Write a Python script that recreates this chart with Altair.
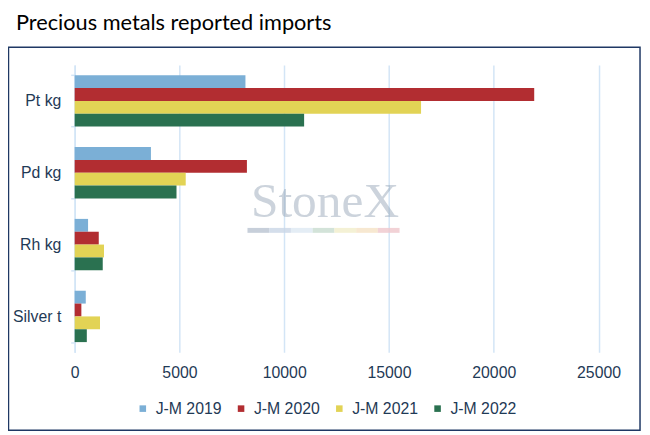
import altair as alt
import pandas as pd

categories = ["Pt kg", "Pd kg", "Rh kg", "Silver t"]
series = ["J-M 2019", "J-M 2020", "J-M 2021", "J-M 2022"]
v2019 = [8150, 3640, 640, 530]
v2020 = [21930, 8220, 1150, 320]
v2021 = [16530, 5300, 1400, 1210]
v2022 = [10950, 4860, 1340, 580]
colors = ["#7BAFD6", "#B22D31", "#E2D355", "#2A7150"]
x_ticks = [0, 5000, 10000, 15000, 20000, 25000]
stripe_colors = ["#B9C3D1", "#C9D6E6", "#DDE8F2", "#C8DCD0", "#F1EDCB", "#F5E2C6", "#EFC7CC"]

rows = []
for s, vals in zip(series, [v2019, v2020, v2021, v2022]):
    for c, v in zip(categories, vals):
        rows.append({"category": c, "series": s, "value": v})
df = pd.DataFrame(rows)

navy = "#1F3A56"
grid = "#D3E5F6"
W, H = 530.5, 291

frame = alt.Chart(pd.DataFrame({"a": [0]})).mark_rect(
    fill="transparent", stroke="#1F3864", strokeWidth=1.5
).encode(x=alt.value(-67), x2=alt.value(572.5), y=alt.value(-18), y2=alt.value(370))

watermark = alt.Chart(pd.DataFrame({"t": ["StoneX"]})).mark_text(
    font="Liberation Serif", fontSize=50, color="#8FA0B2", opacity=0.45,
    align="center", baseline="alphabetic"
).encode(text="t:N", x=alt.value(253.5), y=alt.value(154))

stripe_layers = []
for i, c in enumerate(stripe_colors):
    stripe_layers.append(
        alt.Chart(pd.DataFrame({"a": [0]})).mark_rect(color=c, opacity=0.8).encode(
            x=alt.value(175 + i * 22), x2=alt.value(175 + (i + 1) * 22),
            y=alt.value(165), y2=alt.value(170))
    )

bars = alt.Chart(df).mark_bar().encode(
    y=alt.Y("category:N", sort=categories, title=None,
            scale=alt.Scale(paddingInner=0.285, paddingOuter=0.1425),
            axis=alt.Axis(tickBand="extent", domainColor=grid, domainWidth=1.5,
                          tickColor=grid, tickSize=4, tickWidth=1.5, labelPadding=10,
                          labelFont="Liberation Sans", labelFontSize=16, labelColor=navy,
                          grid=False)),
    yOffset=alt.YOffset("series:N", sort=series, scale=alt.Scale(paddingInner=0, paddingOuter=0)),
    x=alt.X("value:Q", title=None,
            scale=alt.Scale(domain=[0, 25000], nice=False),
            axis=alt.Axis(values=x_ticks, format="d", domain=False, ticks=False,
                          labelFlush=False, labelPadding=12,
                          labelFont="Liberation Sans", labelFontSize=16,
                          labelColor=navy, grid=True, gridColor=grid, gridWidth=1.5)),
    color=alt.Color("series:N", sort=series,
                    scale=alt.Scale(domain=series, range=colors),
                    legend=alt.Legend(title=None, orient="none", direction="horizontal",
                                      legendX=61, legendY=340, padding=0,
                                      symbolType="square", symbolSize=44,
                                      symbolStrokeWidth=0, labelOffset=5,
                                      columnPadding=11.5,
                                      labelFont="Liberation Sans", labelFontSize=16,
                                      labelColor=navy)),
)

chart = alt.layer(frame, watermark, *stripe_layers, bars).properties(
    width=W, height=H,
    padding={"left": 67.5, "top": 55, "right": 44, "bottom": 80},
    autosize=alt.AutoSizeParams(type="none"),
    title=alt.TitleParams("Precious metals reported imports", anchor="start",
                          frame="group", dx=-59.5, offset=-5, baseline="alphabetic",
                          font="Lato", fontSize=22, fontWeight="normal", color="#000000"),
).configure_view(stroke=None)

chart.save("out.html", embed_options={"renderer": "svg", "actions": False})
